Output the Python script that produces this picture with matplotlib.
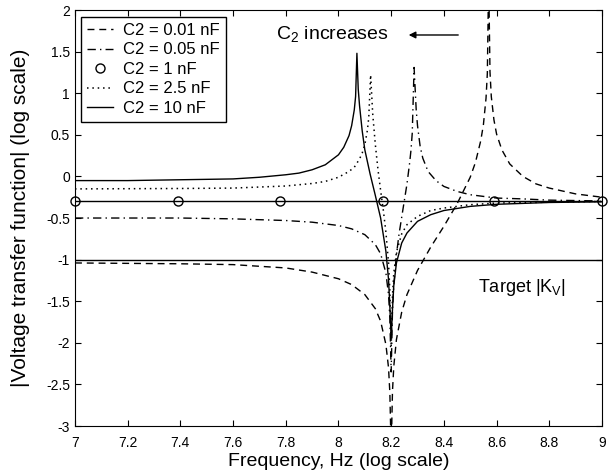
import matplotlib
matplotlib.use('Agg')
import matplotlib.pyplot as plt
from matplotlib.ticker import FormatStrFormatter, MultipleLocator

plt.rcParams['font.family'] = ['Liberation Sans', 'DejaVu Sans']
plt.rcParams['mathtext.fontset'] = 'custom'
plt.rcParams['mathtext.rm'] = 'Liberation Sans'
plt.rcParams['axes.unicode_minus'] = False

# log10 frequency (x) and log10 |transfer function| (y)
# C2 = 0.01 nF
x_001 = [7.0, 7.4, 7.6, 7.7, 7.8, 7.9, 8.0, 8.05, 8.1, 8.14, 8.16, 8.18, 8.19, 8.195,
         8.2, 8.205, 8.21, 8.22, 8.24, 8.26, 8.3, 8.35, 8.4, 8.45, 8.5, 8.52, 8.54, 8.55,
         8.56, 8.565, 8.57, 8.575, 8.58, 8.59, 8.6, 8.62, 8.65, 8.7, 8.75, 8.8, 8.9, 9.0]
y_001 = [-1.04, -1.05, -1.06, -1.08, -1.10, -1.15, -1.23, -1.30, -1.42, -1.59, -1.74, -2.02, -2.30, -2.60,
         -3.3, -2.58, -2.28, -1.96, -1.63, -1.42, -1.13, -0.85, -0.60, -0.33, -0.01, 0.17, 0.43, 0.62,
         0.94, 1.24, 2.4, 1.26, 0.96, 0.68, 0.51, 0.32, 0.15, 0.0, -0.09, -0.14, -0.21, -0.25]

# C2 = 0.05 nF
x_005 = [7.0, 7.4, 7.6, 7.8, 7.9, 8.0, 8.05, 8.1, 8.14, 8.16, 8.18, 8.19, 8.195, 8.2,
         8.205, 8.21, 8.22, 8.23, 8.24, 8.25, 8.26, 8.27, 8.275, 8.28, 8.287, 8.295, 8.3,
         8.31, 8.32, 8.34, 8.37, 8.4, 8.45, 8.5, 8.6, 8.7, 8.8, 9.0]
y_005 = [-0.50, -0.50, -0.51, -0.53, -0.55, -0.59, -0.63, -0.70, -0.82, -0.93, -1.16, -1.42, -1.70, -2.35,
         -1.62, -1.30, -0.94, -0.69, -0.49, -0.29, -0.09, 0.16, 0.31, 0.52, 1.31, 0.80, 0.61,
         0.36, 0.22, 0.06, -0.05, -0.12, -0.18, -0.22, -0.26, -0.27, -0.285, -0.295]

# C2 = 1 nF
x_1 = [7.0, 7.39, 7.78, 8.17, 8.59, 9.0]
y_1 = [-0.3, -0.3, -0.3, -0.3, -0.3, -0.3]

# C2 = 2.5 nF
x_25 = [7.0, 7.4, 7.6, 7.8, 7.9, 7.95, 8.0, 8.04, 8.06, 8.08, 8.09, 8.1, 8.11, 8.115,
        8.122, 8.13, 8.14, 8.15, 8.16, 8.17, 8.18, 8.19, 8.195, 8.2, 8.205, 8.21, 8.22,
        8.24, 8.26, 8.3, 8.35, 8.4, 8.5, 8.6, 8.8, 9.0]
y_25 = [-0.15, -0.145, -0.14, -0.115, -0.085, -0.06, -0.01, 0.06, 0.11, 0.21, 0.28, 0.38, 0.56, 0.71,
        1.22, 0.75, 0.38, 0.08, -0.17, -0.40, -0.67, -1.04, -1.37, -2.05, -1.43, -1.16, -0.91,
        -0.69, -0.58, -0.48, -0.41, -0.38, -0.34, -0.32, -0.31, -0.30]

# C2 = 10 nF
x_10 = [7.0, 7.2, 7.4, 7.6, 7.7, 7.8, 7.85, 7.9, 7.95, 8.0, 8.02, 8.04, 8.05, 8.06, 8.065,
        8.07, 8.075, 8.08, 8.09, 8.1, 8.12, 8.14, 8.16, 8.18, 8.19, 8.195, 8.2, 8.205, 8.21,
        8.22, 8.24, 8.26, 8.3, 8.35, 8.4, 8.5, 8.6, 8.8, 9.0]
y_10 = [-0.05, -0.05, -0.04, -0.03, -0.01, 0.02, 0.04, 0.08, 0.14, 0.26, 0.35, 0.49, 0.61, 0.80, 0.96,
        1.48, 1.05, 0.85, 0.55, 0.32, 0.03, -0.23, -0.50, -0.90, -1.24, -1.56, -1.95, -1.60, -1.31,
        -1.04, -0.80, -0.68, -0.54, -0.46, -0.41, -0.36, -0.335, -0.313, -0.305]

target_kv = -1.0

fig = plt.figure(figsize=(6.13, 4.71), dpi=100)
ax = fig.add_axes([0.1223, 0.0955, 0.8597, 0.8832])

ax.plot(x_001, y_001, color='k', linestyle=(0, (5, 3.5)), lw=1.0, label='C2 = 0.01 nF')
ax.plot(x_005, y_005, color='k', linestyle=(0, (6, 3, 1, 3)), lw=1.0, label='C2 = 0.05 nF')
ax.plot([7.0, 9.0], [y_1[0], y_1[-1]], color='k', lw=1.0)
ax.plot(x_1, y_1, linestyle='none', marker='o', markersize=6.5, markerfacecolor='none',
        markeredgecolor='k', markeredgewidth=1.0, label='C2 = 1 nF', clip_on=False)
ax.plot(x_25, y_25, color='k', linestyle=(0, (1, 2.5)), lw=1.1, label='C2 = 2.5 nF')
ax.plot(x_10, y_10, color='k', linestyle='-', lw=1.0, label='C2 = 10 nF')
ax.axhline(target_kv, color='k', lw=1.0)

# annotations
ax.text(7.763, 1.64, r'C$_\mathregular{2}$ increases', fontsize=14, va='baseline')
ax.annotate('', xy=(8.256, 1.70), xytext=(8.465, 1.70),
            arrowprops=dict(arrowstyle='-|>', color='k', lw=1.0, mutation_scale=10))
ax.text(8.53, -1.39, r'Target |K$_\mathregular{V}$|', fontsize=13, va='baseline')

ax.set_xlim(7, 9)
ax.set_ylim(-3, 2)
ax.xaxis.set_major_locator(MultipleLocator(0.2))
ax.yaxis.set_major_locator(MultipleLocator(0.5))
ax.xaxis.set_major_formatter(FormatStrFormatter('%g'))
ax.yaxis.set_major_formatter(FormatStrFormatter('%g'))
ax.tick_params(direction='in', top=True, right=True, length=4, labelsize=10)
ax.tick_params(axis='x', pad=7)

ax.set_xlabel('Frequency, Hz (log scale)', fontsize=14)
ax.set_ylabel('|Voltage transfer function| (log scale)', fontsize=15)
ax.xaxis.set_label_coords(0.5, -0.066)
ax.yaxis.set_label_coords(-0.085, 0.5)

leg = ax.legend(loc='upper left', bbox_to_anchor=(0.0114, 0.983), borderaxespad=0,
                fontsize=12, fancybox=False, framealpha=1, edgecolor='k',
                handlelength=1.6, handletextpad=0.6, labelspacing=0.27, borderpad=0.35)
leg.get_frame().set_linewidth(1.0)

plt.savefig('out.png', dpi=100)
